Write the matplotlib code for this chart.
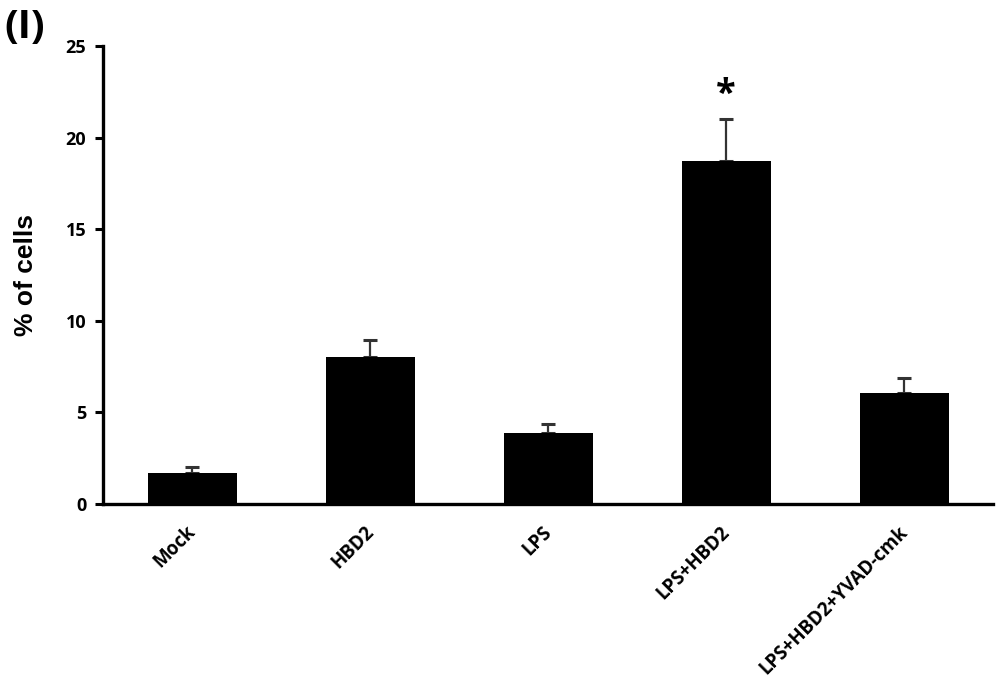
import matplotlib
matplotlib.use("Agg")
import matplotlib.pyplot as plt
from matplotlib import transforms

# data
groups = ["Mock", "HBD2", "LPS", "LPS+HBD2", "LPS+HBD2+YVAD-cmk"]
pct_cells = [1.7, 8.0, 3.9, 18.7, 6.05]
err_upper = [0.3, 0.95, 0.45, 2.3, 0.8]
yticks = [0, 5, 10, 15, 20, 25]

plt.rcParams['font.family'] = ['Open Sans', 'DejaVu Sans']

fig = plt.figure(figsize=(10, 6.9), dpi=100)
ax = fig.add_axes([0.103, 0.2696, 0.89, 0.6638])

x = list(range(len(groups)))
ax.bar(x, pct_cells, width=0.5, color='black', zorder=2)
ax.errorbar(x, pct_cells, yerr=[[0] * len(groups), err_upper], fmt='none',
            ecolor='#333333', elinewidth=1.6, capsize=5, capthick=2.2, zorder=1)

# significance mark on the LPS+HBD2 bar
ax.text(3, 22.3, "*", ha='center', va='center',
        fontsize=26, fontweight='bold')

ax.set_xlim(-0.5, 4.5)
ax.set_ylim(0, 25)
ax.set_yticks(yticks)
ax.set_yticklabels([str(t) for t in yticks], fontsize=13, fontweight='bold')
ax.set_xticks(x)
ax.set_xticklabels(groups, rotation=45, ha='right', rotation_mode='anchor',
                   fontsize=13.5, fontweight='bold')
ax.tick_params(axis='x', length=0, pad=13)
ax.tick_params(axis='y', length=6, width=2.2, direction='out', pad=6)

# nudge the slanted labels a little to the left
shift = transforms.ScaledTranslation(-6 / 100, 0, fig.dpi_scale_trans)
for lbl in ax.get_xticklabels():
    lbl.set_transform(lbl.get_transform() + shift)

for side in ['top', 'right']:
    ax.spines[side].set_visible(False)
for side in ['left', 'bottom']:
    ax.spines[side].set_linewidth(2.4)

ax.set_ylabel("% of cells", fontsize=19, fontweight='bold',
              family=['Liberation Sans', 'DejaVu Sans'], labelpad=20)

fig.text(0.004, 0.988, "(I)", fontsize=29, fontweight='bold', va='top', ha='left')

fig.savefig("out.png", dpi=100)
